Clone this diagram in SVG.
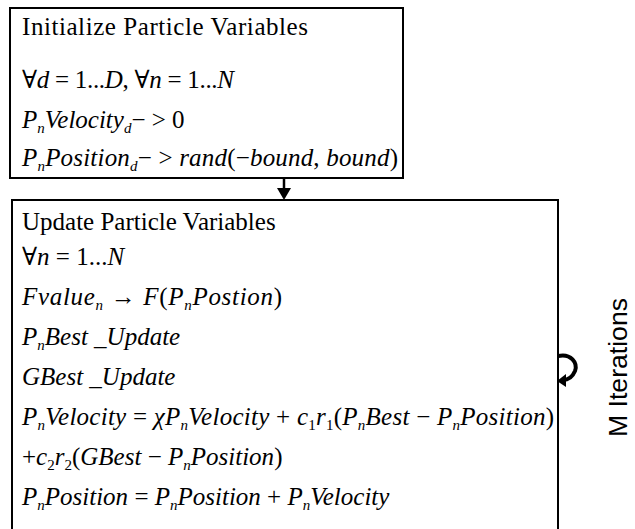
<svg xmlns="http://www.w3.org/2000/svg" width="635" height="529" viewBox="0 0 635 529">
<style>
.box{fill:#fff;stroke:#000;stroke-width:2}
.t{font-family:'Liberation Serif','Tinos','Times New Roman','Times','DejaVu Serif',serif;font-size:25px;fill:#000}
.i{font-style:italic}
.s{font-size:15px;font-style:italic}
.sn{font-size:15px}
.lbl{font-family:'Liberation Sans',Arial,sans-serif;font-size:25px;fill:#000}
</style>
<g id="connectors">
<line x1="284" y1="178" x2="284" y2="190" stroke="#000" stroke-width="2.5"/>
<path d="M277,188 L291,188 L284,200 Z" fill="#000"/>
<path d="M558,356 C571,353 578,363 575,371 C572,378 567,380 563,380" fill="none" stroke="#000" stroke-width="4"/>
<path d="M557,381 L566,374 L566,387 Z" fill="#000"/>
</g>
<g id="init">
<rect class="box" x="10" y="8" width="393" height="170"/>
<text class="t" x="22" y="35" textLength="286" lengthAdjust="spacing">Initialize Particle Variables</text>
<text class="t" x="22" y="88" textLength="212" lengthAdjust="spacing">∀<tspan class="i">d</tspan> = 1...<tspan class="i">D</tspan>, ∀<tspan class="i">n</tspan> = 1...<tspan class="i">N</tspan></text>
<text class="t" x="22" y="128"><tspan class="i">P</tspan><tspan class="s" dy="5">n</tspan><tspan class="i" dy="-5">Velocity</tspan><tspan class="s" dy="5">d</tspan><tspan dy="-5">− &gt; 0</tspan></text>
<text class="t" x="22" y="166" textLength="376" lengthAdjust="spacing"><tspan class="i">P</tspan><tspan class="s" dy="5">n</tspan><tspan class="i" dy="-5">Position</tspan><tspan class="s" dy="5">d</tspan><tspan dy="-5">− &gt; </tspan><tspan class="i">rand</tspan>(−<tspan class="i">bound</tspan>, <tspan class="i">bound</tspan>)</text>
</g>
<g id="update">
<rect class="box" x="12" y="200" width="546" height="340"/>
<text class="t" x="22" y="230">Update  Particle Variables</text>
<text class="t" x="22" y="265">∀<tspan class="i">n</tspan> = 1...<tspan class="i">N</tspan></text>
<text class="t" x="22" y="305" textLength="260" lengthAdjust="spacing"><tspan class="i">Fvalue</tspan><tspan class="s" dy="5">n</tspan><tspan dy="-5"> → </tspan><tspan class="i">F</tspan>(<tspan class="i">P</tspan><tspan class="s" dy="5">n</tspan><tspan class="i" dy="-5">Postion</tspan>)</text>
<text class="t" x="22" y="345"><tspan class="i">P</tspan><tspan class="s" dy="5">n</tspan><tspan class="i" dy="-5">Best _Update</tspan></text>
<text class="t" x="22" y="385"><tspan class="i">GBest _Update</tspan></text>
<text class="t" x="22" y="425" textLength="532" lengthAdjust="spacing"><tspan class="i">P</tspan><tspan class="s" dy="5">n</tspan><tspan class="i" dy="-5">Velocity</tspan> = <tspan class="i">χP</tspan><tspan class="s" dy="5">n</tspan><tspan class="i" dy="-5">Velocity</tspan> + <tspan class="i">c</tspan><tspan class="sn" dy="5">1</tspan><tspan class="i" dy="-5">r</tspan><tspan class="sn" dy="5">1</tspan><tspan dy="-5">(</tspan><tspan class="i">P</tspan><tspan class="s" dy="5">n</tspan><tspan class="i" dy="-5">Best</tspan> − <tspan class="i">P</tspan><tspan class="s" dy="5">n</tspan><tspan class="i" dy="-5">Position</tspan>)</text>
<text class="t" x="22" y="465"><tspan>+</tspan><tspan class="i">c</tspan><tspan class="sn" dy="5">2</tspan><tspan class="i" dy="-5">r</tspan><tspan class="sn" dy="5">2</tspan><tspan dy="-5">(</tspan><tspan class="i">GBest</tspan> − <tspan class="i">P</tspan><tspan class="s" dy="5">n</tspan><tspan class="i" dy="-5">Position</tspan>)</text>
<text class="t" x="22" y="505"><tspan class="i">P</tspan><tspan class="s" dy="5">n</tspan><tspan class="i" dy="-5">Position</tspan> = <tspan class="i">P</tspan><tspan class="s" dy="5">n</tspan><tspan class="i" dy="-5">Position</tspan> + <tspan class="i">P</tspan><tspan class="s" dy="5">n</tspan><tspan class="i" dy="-5">Velocity</tspan></text>
</g>
<g id="iterations">
<text class="lbl" transform="translate(627,437) rotate(-90)" textLength="139" lengthAdjust="spacingAndGlyphs">M Iterations</text>
</g>
</svg>
